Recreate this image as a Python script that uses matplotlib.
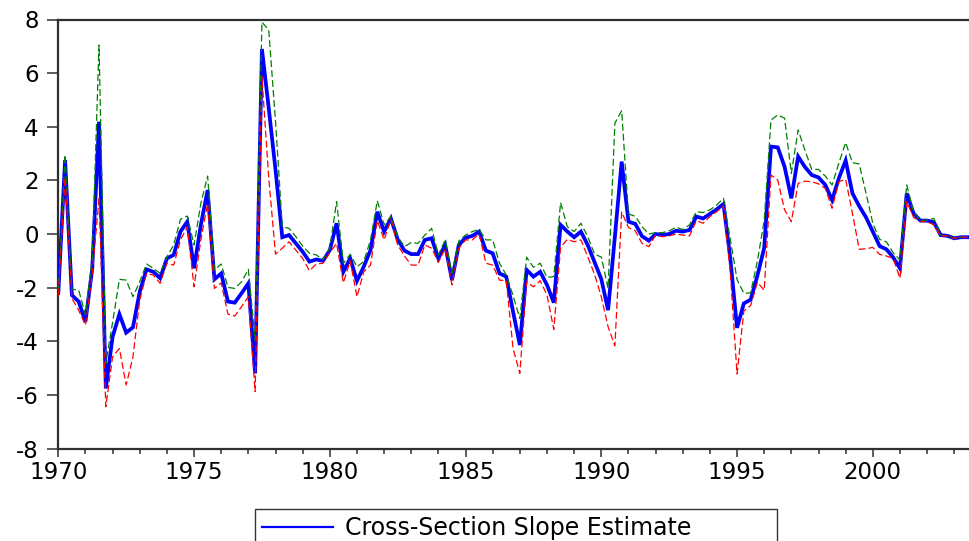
import numpy as np
import matplotlib
matplotlib.use("Agg")
import matplotlib.pyplot as plt
from matplotlib.lines import Line2D
from matplotlib.ticker import MultipleLocator

# Quarterly cross-section slope estimates, 1970Q1 - 2003Q3
start_year = 1970
estimate = [
    -2.20, 2.76, -2.28, -2.52, -3.27, -1.30, 4.19, -5.76, -3.83, -2.99,
    -3.68, -3.48, -2.15, -1.32, -1.41, -1.65, -0.91, -0.78, 0.09, 0.46,
    -1.28, 0.34, 1.64, -1.69, -1.47, -2.52, -2.56, -2.21, -1.84, -5.20,
    6.90, 4.70, 2.40, -0.12, -0.04, -0.35, -0.66, -1.03, -0.95, -1.00,
    -0.60, 0.40, -1.41, -0.91, -1.75, -1.22, -0.60, 0.83, 0.09, 0.58,
    -0.20, -0.62, -0.75, -0.75, -0.22, -0.16, -0.91, -0.41, -1.72, -0.41,
    -0.14, -0.07, 0.09, -0.62, -0.72, -1.47, -1.59, -2.90, -4.14, -1.34,
    -1.59, -1.41, -1.90, -2.56, 0.34, 0.09, -0.12, 0.09, -0.41, -1.05,
    -1.68, -2.84, -0.10, 2.70, 0.46, 0.38, -0.08, -0.25, 0.00, -0.04,
    0.00, 0.12, 0.09, 0.15, 0.65, 0.58, 0.75, 0.92, 1.12, -0.90,
    -3.50, -2.59, -2.45, -1.55, -0.52, 3.26, 3.23, 2.51, 1.33, 2.89,
    2.50, 2.20, 2.11, 1.83, 1.27, 2.08, 2.74, 1.52, 1.04, 0.62,
    0.09, -0.45, -0.57, -0.87, -1.28, 1.52, 0.77, 0.50, 0.50, 0.44,
    -0.04, -0.07, -0.16, -0.12, -0.12,
]
upper_band = [
    -2.20, 2.95, -2.06, -2.09, -3.02, -0.90, 7.05, -4.83, -3.30, -1.69,
    -1.72, -2.34, -1.78, -1.12, -1.28, -1.47, -0.85, -0.41, 0.55, 0.67,
    -0.41, 1.14, 2.16, -1.34, -1.12, -1.99, -2.03, -1.78, -1.32, -3.96,
    7.90, 7.62, 4.20, 0.27, 0.21, -0.10, -0.45, -0.72, -0.78, -0.95,
    -0.53, 1.21, -1.09, -0.76, -1.22, -1.03, -0.22, 1.24, 0.34, 0.65,
    -0.10, -0.47, -0.32, -0.35, -0.04, 0.21, -0.78, -0.22, -1.47, -0.26,
    -0.04, 0.09, 0.17, -0.22, -0.22, -1.09, -1.53, -2.30, -3.15, -0.87,
    -1.24, -1.09, -1.62, -1.59, 1.17, 0.27, 0.09, 0.40, -0.10, -0.75,
    -0.86, -2.03, 4.13, 4.60, 0.75, 0.66, 0.27, 0.00, 0.05, 0.05,
    0.12, 0.25, 0.17, 0.34, 0.83, 0.80, 0.90, 1.08, 1.33, -0.20,
    -1.70, -2.21, -2.20, -1.00, 0.50, 4.25, 4.44, 4.32, 2.26, 3.88,
    3.13, 2.41, 2.41, 2.16, 1.83, 2.64, 3.41, 2.66, 2.61, 1.52,
    0.40, -0.20, -0.29, -0.70, -0.97, 1.83, 0.83, 0.50, 0.52, 0.58,
    -0.04, -0.07, -0.16, -0.12, -0.12,
]
lower_band = [
    -2.30, 2.10, -2.40, -2.84, -3.40, -1.50, 1.33, -6.44, -4.58, -4.27,
    -5.63, -4.58, -2.46, -1.47, -1.53, -1.84, -1.09, -1.16, -0.22, 0.27,
    -1.97, -0.22, 1.14, -2.03, -1.82, -2.99, -3.06, -2.71, -2.34, -5.88,
    5.87, 2.10, -0.75, -0.53, -0.29, -0.60, -0.91, -1.37, -1.12, -1.09,
    -0.70, -0.35, -1.82, -1.00, -2.34, -1.41, -1.16, 0.50, -0.22, 0.55,
    -0.41, -0.82, -1.16, -1.16, -0.41, -0.53, -1.06, -0.53, -1.90, -0.53,
    -0.22, -0.22, 0.00, -1.09, -1.16, -1.72, -1.74, -4.27, -5.20, -1.78,
    -1.97, -1.74, -2.28, -3.56, -0.50, -0.20, -0.29, -0.22, -0.85, -1.50,
    -2.34, -3.46, -4.17, 0.82, 0.24, 0.12, -0.35, -0.47, -0.04, -0.10,
    -0.07, 0.00, -0.04, -0.07, 0.50, 0.40, 0.65, 0.83, 1.05, -1.40,
    -5.22, -2.87, -2.67, -1.80, -2.10, 2.20, 2.01, 0.90, 0.46, 1.89,
    1.97, 1.95, 1.87, 1.70, 0.96, 1.95, 2.04, 0.77, -0.57, -0.55,
    -0.50, -0.76, -0.82, -0.91, -1.65, 1.21, 0.62, 0.46, 0.46, 0.34,
    -0.07, -0.07, -0.16, -0.12, -0.12,
]
year_ticks = [1970, 1975, 1980, 1985, 1990, 1995, 2000]
value_ticks = [-8, -6, -4, -2, 0, 2, 4, 6, 8]
series_label = "Cross-Section Slope Estimate"

t = start_year + np.arange(len(estimate)) / 4.0

plt.rcParams["font.family"] = ["DejaVu Sans"]
plt.rcParams["axes.unicode_minus"] = False

fig = plt.figure(figsize=(9.69, 5.41), dpi=100)
W, H = 969.0, 541.0
ax_left, ax_right, ax_top, ax_bottom = 58.3, 969.0, 19.5, 448.5
ax = fig.add_axes([ax_left / W, 1 - ax_bottom / H,
                   (ax_right - ax_left) / W, (ax_bottom - ax_top) / H])

ax.plot(t, estimate, color="#0000ff", lw=2.7, solid_joinstyle="miter", zorder=3)
ax.plot(t, upper_band, color="#008000", lw=0.9, dashes=(5.5, 2.5), zorder=4)
ax.plot(t, lower_band, color="#ff0000", lw=0.9, dashes=(5.5, 2.5), zorder=4)

px_per_year = 27.15
ax.set_xlim(start_year, start_year + (ax_right - ax_left) / px_per_year)
ax.set_ylim(-8, 8)
ax.set_xticks(year_ticks)
ax.xaxis.set_minor_locator(MultipleLocator(1))
ax.set_yticks(value_ticks)

for side in ("left", "bottom", "top"):
    ax.spines[side].set_color("#303030")
    ax.spines[side].set_linewidth(1.6)
ax.spines["right"].set_visible(False)

ax.tick_params(axis="x", which="major", direction="out", length=6, width=1.1,
               color="#303030", labelsize=16.5, pad=3)
ax.tick_params(axis="x", which="minor", direction="out", length=3.6, width=1.1,
               color="#303030")
ax.tick_params(axis="y", which="major", direction="out", length=8, width=1.1,
               color="#303030", labelsize=16.5, pad=6)

handle = Line2D([], [], color="#0000ff", lw=1.6)
leg = fig.legend([handle], [series_label], loc="upper left",
                 bbox_to_anchor=(255 / W, 1 - 509 / H, 522 / W, 0),
                 mode="expand", fontsize=17, frameon=True, fancybox=False,
                 borderpad=0.3, borderaxespad=0, handlelength=3.0,
                 handletextpad=0.5)
leg.get_frame().set_edgecolor("black")
leg.get_frame().set_linewidth(1.0)

fig.savefig("out.png", dpi=100)
